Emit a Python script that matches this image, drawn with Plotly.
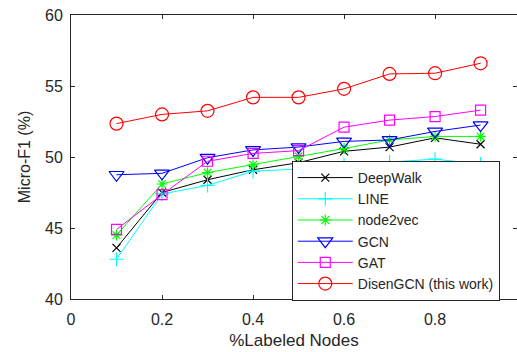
import plotly.graph_objects as go

x_vals = [0.1, 0.2, 0.3, 0.4, 0.5, 0.6, 0.7, 0.8, 0.9]
deepwalk = [43.6, 47.5, 48.4, 49.1, 49.6, 50.4, 50.7, 51.35, 50.9]
line_vals = [42.8, 47.4, 48.0, 49.0, 49.15, 49.45, 49.65, 49.85, 49.5]
node2vec = [44.5, 48.1, 48.9, 49.45, 50.05, 50.6, 51.2, 51.45, 51.45]
gcn = [48.75, 48.85, 49.95, 50.5, 50.7, 51.1, 51.2, 51.8, 52.25]
gat = [44.9, 47.35, 49.7, 50.25, 50.45, 52.1, 52.6, 52.85, 53.3]
disengcn = [52.35, 53.0, 53.25, 54.2, 54.2, 54.8, 55.85, 55.9, 56.6]

series = [
    ("DeepWalk", deepwalk, "#000000", "x-thin-open", 8),
    ("LINE", line_vals, "#00ffff", "cross-thin-open", 10),
    ("node2vec", node2vec, "#00ff00", "asterisk-open", 9),
    ("GCN", gcn, "#0000ff", "triangle-down-open", 13),
    ("GAT", gat, "#ff00ff", "square-open", 10),
    ("DisenGCN (this work)", disengcn, "#ff0000", "circle-open", 13),
]

fig = go.Figure()
for name, vals, color, sym, size in series:
    fig.add_trace(go.Scatter(
        x=x_vals, y=vals, name=name, mode="lines+markers",
        line=dict(color=color, width=1),
        marker=dict(symbol=sym, size=size, color=color, line=dict(color=color, width=1.2)),
    ))

font = "Liberation Sans, Arial, sans-serif"
fig.update_layout(
    width=517, height=352,
    margin=dict(l=71, r=0, t=15, b=53),
    paper_bgcolor="white", plot_bgcolor="white",
    font=dict(family=font, size=16, color="#262626"),
    showlegend=True,
    legend=dict(
        x=0.495, y=-0.007, xanchor="left", yanchor="bottom",
        bgcolor="white", bordercolor="#262626", borderwidth=1,
        font=dict(family=font, size=14, color="#262626"),
        tracegroupgap=0, itemwidth=55,
    ),
    xaxis=dict(
        range=[0, 0.98], tickvals=[0, 0.2, 0.4, 0.6, 0.8],
        ticktext=["0", "0.2", "0.4", "0.6", "0.8"],
        showgrid=False, zeroline=False,
        showline=True, linecolor="#262626", linewidth=1, mirror="ticks",
        ticks="inside", ticklen=4, tickcolor="#262626",
        ticklabelstandoff=6,
        title=dict(text="%Labeled Nodes", font=dict(size=17), standoff=6),
    ),
    yaxis=dict(
        range=[40, 60], tickvals=[40, 45, 50, 55, 60],
        showgrid=False, zeroline=False,
        showline=True, linecolor="#262626", linewidth=1, mirror="ticks",
        ticks="inside", ticklen=4, tickcolor="#262626",
        ticklabelstandoff=4,
        title=dict(text="Micro-F1 (%)", font=dict(size=16), standoff=10),
    ),
)

fig.write_html("out.html")
